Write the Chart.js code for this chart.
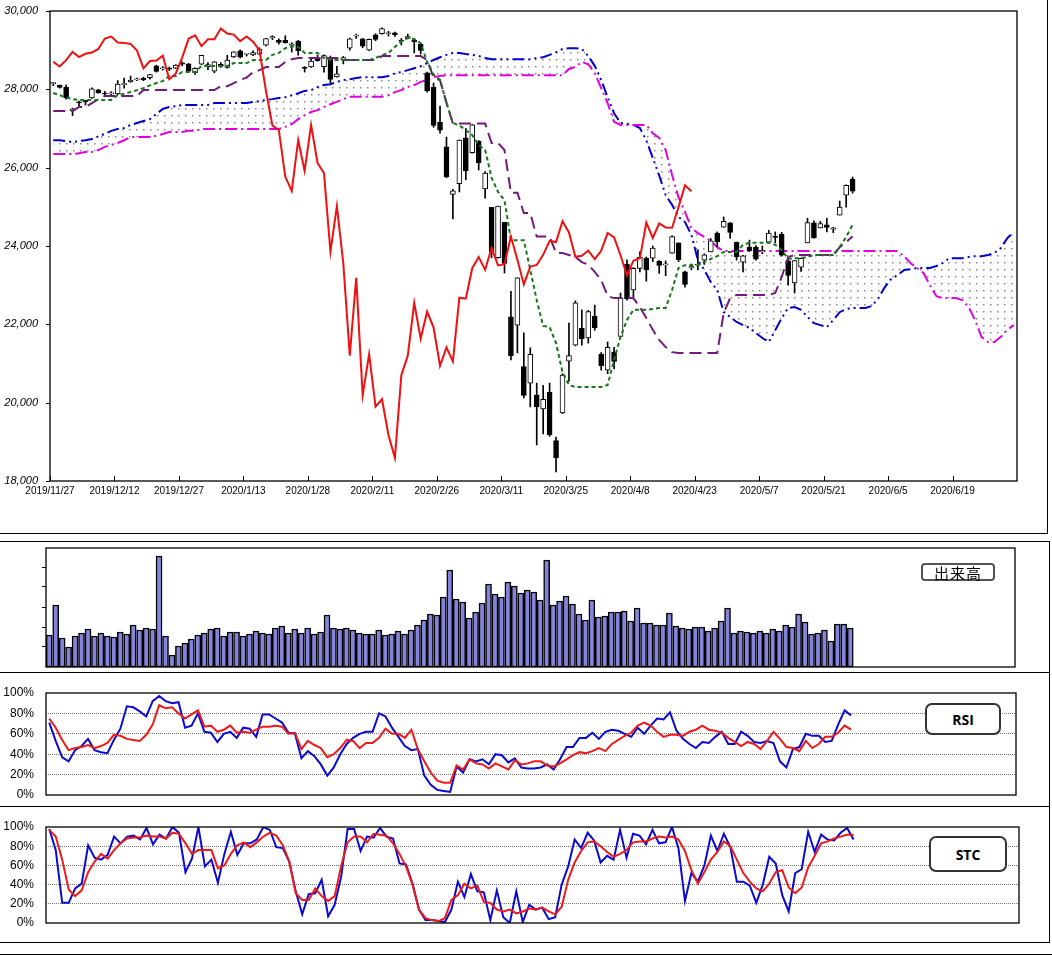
<!DOCTYPE html>
<html>
<head>
<meta charset="utf-8">
<script src="https://cdn.jsdelivr.net/npm/chart.js@4.4.1/dist/chart.umd.min.js"></script>
<style>
  body { margin: 0; background: #fff; }
  #wrap { position: relative; width: 1052px; height: 956px; overflow: hidden; }
  canvas { position: absolute; left: 0; }
  .ln { position: absolute; background: #000; }
  .tag { position: absolute; box-sizing: border-box; background: #fff; display: flex;
         align-items: center; justify-content: center; color: #000; }
</style>
</head>
<body>
<div id="wrap">
  <canvas id="cMain" width="1052" height="534" style="top:0"></canvas>
  <canvas id="cVol" width="1052" height="131" style="top:541px"></canvas>
  <canvas id="cRsi" width="1052" height="135" style="top:672px"></canvas>
  <canvas id="cStc" width="1052" height="135" style="top:807px"></canvas>

  <div class="ln" style="left:1047px;top:0;width:1px;height:534px"></div>
  <div class="ln" style="left:0;top:533px;width:1048px;height:1px"></div>
  <div class="ln" style="left:0;top:541px;width:1050px;height:1px"></div>
  <div class="ln" style="left:1049px;top:541px;width:1px;height:401px"></div>
  <div class="ln" style="left:0;top:672px;width:1050px;height:1px"></div>
  <div class="ln" style="left:0;top:806px;width:1050px;height:1px"></div>
  <div class="ln" style="left:0;top:942px;width:1050px;height:1px"></div>
  <div class="ln" style="left:0;top:954px;width:1052px;height:1px"></div>

  <div class="tag" style="left:921px;top:563px;width:74px;height:18px;border:2px solid #555;border-radius:4px;font:15px 'Noto Sans CJK JP';letter-spacing:1px">出来高</div>
  <div class="tag" style="left:925px;top:703px;width:76px;height:32px;border:2px solid #333;border-radius:7px;font:bold 14px 'Open Sans'">RSI</div>
  <div class="tag" style="left:929px;top:836px;width:78px;height:36px;border:2px solid #333;border-radius:7px;font:bold 14px 'Open Sans'">STC</div>
</div>

<script>
Chart.defaults.font.family = "'Liberation Sans', Arial, sans-serif";
Chart.defaults.color = '#000';

// date labels every 10 trading days
const tickLabels = ['2019/11/27', '2019/12/12', '2019/12/27', '2020/1/13', '2020/1/28', '2020/2/11', '2020/2/26',
    '2020/3/11', '2020/3/25', '2020/4/8', '2020/4/23', '2020/5/7', '2020/5/21', '2020/6/5', '2020/6/19'];
const priceTicks = [18000, 20000, 22000, 24000, 26000, 28000, 30000];

const open = [28145, 28100, 28060, 27450, 27680, 27720, 27780, 27990, 27900, 27880,
    27880, 28120, 28190, 28240, 28280, 28300, 28600, 28520, 28540, 28540,
    28675, 28650, 28420, 28640, 28580, 28465, 28640, 28560, 28830, 28980,
    28900, 28880, 28900, 29130, 29310, 29250, 29250, 29130, 29230, 28540,
    28570, 28820, 28580, 28770, 28320, 28750, 29050, 29360, 29290, 29000,
    29390, 29420, 29420, 29440, 29250, 29300, 29250, 29150, 28420, 28060,
    27160, 26530, 25320, 25590, 26760, 26380, 26680, 25460, 24990, 23700,
    24604, 22190, 21980, 20920, 20500, 20200, 19840, 20270, 19030, 19740,
    21060, 21470, 21900, 21650, 22210, 21240, 20830, 21290, 21690, 23540,
    22880, 23430, 23690, 23690, 23610, 23520, 23820, 24080, 23340, 23440,
    23510, 23640, 23850, 24330, 24480, 24590, 24100, 23590, 23970, 23970,
    23850, 24100, 24240, 24300, 23620, 23060, 23460, 24080, 24590, 24460,
    24540, 24430, 24790, 25300, 25710];
const high = [28175, 28110, 28110, 27520, 27700, 27720, 28040, 28000, 27950, 27940,
    28225, 28290, 28340, 28290, 28310, 28380, 28620, 28580, 28570, 28630,
    28700, 28660, 28550, 28870, 28680, 28710, 28680, 28870, 28960, 29010,
    28920, 28980, 29060, 29300, 29370, 29290, 29370, 29190, 29250, 28580,
    28780, 28870, 28880, 28850, 28590, 28840, 29310, 29410, 29300, 29280,
    29420, 29570, 29480, 29460, 29300, 29410, 29300, 29170, 28440, 28160,
    27570, 26780, 25450, 26710, 27000, 27100, 26690, 25900, 24990, 25020,
    24604, 22840, 23190, 21780, 21400, 20500, 20440, 20500, 19120, 20740,
    22030, 22600, 22370, 22360, 22490, 21280, 21550, 21410, 22800, 23650,
    23450, 23850, 23720, 24000, 23630, 23620, 24260, 24080, 23360, 23540,
    23900, 23800, 24190, 24360, 24740, 24600, 24100, 23760, 24150, 24010,
    24000, 24400, 24360, 24350, 23680, 23630, 23690, 24710, 24640, 24630,
    24710, 24480, 25150, 25560, 25760];
const low = [28095, 28030, 27750, 27330, 27560, 27600, 27770, 27900, 27830, 27850,
    27860, 28030, 28180, 28220, 28220, 28260, 28440, 28490, 28480, 28530,
    28600, 28430, 28380, 28630, 28500, 28420, 28560, 28540, 28810, 28800,
    28850, 28860, 28880, 29110, 29270, 29150, 29180, 28950, 28870, 28440,
    28560, 28720, 28440, 28160, 28310, 28650, 29000, 29300, 29060, 28990,
    29240, 29410, 29360, 29350, 29130, 29300, 28930, 28900, 27930, 27030,
    26880, 25740, 24690, 25380, 25690, 26370, 25940, 25220, 23700, 23690,
    23310, 21090, 21270, 20120, 19890, 18920, 19200, 19140, 18230, 19720,
    20540, 21450, 21470, 21520, 21850, 20830, 20740, 20860, 21690, 22620,
    22700, 23340, 23100, 23600, 23300, 23240, 23810, 23600, 22950, 23390,
    23390, 23530, 23850, 23980, 24480, 24200, 23640, 23340, 23860, 23640,
    23800, 24100, 24080, 23740, 23000, 22800, 23350, 24080, 24200, 24460,
    24360, 24340, 24790, 24990, 25350];
const close = [28164, 28051, 27783, 27503, 27650, 27677, 28015, 27909, 27881, 27911,
    28132, 28135, 28235, 28267, 28239, 28376, 28455, 28551, 28515, 28621,
    28645, 28462, 28538, 28868, 28634, 28703, 28583, 28745, 28956, 28823,
    28907, 28940, 29030, 29297, 29348, 29196, 29186, 29160, 28990, 28535,
    28723, 28734, 28859, 28256, 28399, 28808, 29290, 29379, 29102, 29276,
    29276, 29551, 29423, 29398, 29232, 29348, 29219, 28992, 27961, 27081,
    26957, 25766, 25409, 26703, 25917, 27091, 26121, 25864, 23851, 25018,
    23553, 21200, 23185, 20188, 21237, 19899, 20087, 19174, 18592, 20704,
    21200, 22552, 21636, 22327, 21917, 20943, 21413, 21052, 22679, 22654,
    23433, 23719, 23391, 23949, 23504, 23537, 24242, 23650, 23018, 23475,
    23515, 23775, 24133, 24101, 24633, 24345, 23723, 23749, 23883, 23664,
    23876, 24331, 24222, 23765, 23248, 23625, 23685, 24597, 24206, 24575,
    24474, 24465, 24995, 25548, 25400];

// 転換線
const tenkan = [27905, 27850, 27790, 27750, 27730, 27730, 27730, 27730, 27730, 27730,
    27855, 27890, 27930, 27980, 28030, 28100, 28160, 28210, 28340, 28340,
    28440, 28440, 28440, 28595, 28595, 28595, 28595, 28595, 28670, 28670,
    28670, 28750, 28750, 28750, 28880, 28930, 29050, 29100, 29080, 28930,
    28930, 28930, 28800, 28750, 28750, 28750, 28750, 28750, 28750, 28750,
    28800, 28875, 28930, 29080, 29230, 29310, 29280, 29180, 28700, 28380,
    28240, 27650, 27140, 27080, 26960, 26830, 26580, 26450, 25740, 25380,
    25170, 24150, 24150, 24150, 23390, 22620, 21960, 21930, 21520, 20780,
    20450, 20400, 20400, 20400, 20400, 20400, 20450, 21090, 21680, 22110,
    22370, 22370, 22370, 22390, 22420, 22420, 22880, 23440, 23510, 23510,
    23510, 23590, 23670, 23740, 23850, 23850, 23850, 24030, 24080, 24080,
    24080, 24080, 24030, 23900, 23670, 23690, 23690, 23720, 23770, 23770,
    23770, 23770, 23970, 24230, 24540];
// 基準線
const kijun = [27450, 27450, 27450, 27450, 27550, 27550, 27650, 27750, 27830, 27830,
    27830, 27830, 27830, 27830, 27980, 27980, 27980, 27980, 27980, 27980,
    27980, 27980, 27980, 27980, 27980, 27980, 28080, 28080, 28160, 28240,
    28300, 28440, 28490, 28570, 28570, 28570, 28700, 28770, 28800, 28800,
    28800, 28800, 28800, 28800, 28800, 28750, 28750, 28750, 28750, 28750,
    28750, 28850, 28850, 28850, 28850, 28850, 28850, 28850, 28750, 28300,
    28230, 27660, 27125, 27125, 27125, 27125, 27125, 27125, 26630, 26630,
    26450, 25360, 25360, 24840, 24840, 24240, 24240, 24240, 23820, 23820,
    23770, 23720, 23590, 23520, 23340, 23130, 22720, 22670, 22670, 22670,
    22670, 22440, 22160, 21860, 21600, 21420, 21290, 21270, 21270, 21270,
    21270, 21270, 21270, 21270, 22290, 22670, 22750, 22750, 22750, 22750,
    22750, 22750, 22800, 23210, 23720, 23770, 23770, 23770, 23770, 23770,
    23770, 23770, 23970, 24100, 24250];
// 遅行スパン (starts at the first bar)
const chikou = [28703, 28583, 28745, 28956, 28823, 28907, 28940, 29030, 29297, 29348,
    29196, 29186, 29160, 28990, 28535, 28723, 28734, 28859, 28256, 28399,
    28808, 29290, 29379, 29102, 29276, 29276, 29551, 29423, 29398, 29232,
    29348, 29219, 28992, 27961, 27081, 26957, 25766, 25409, 26703, 25917,
    27091, 26121, 25864, 23851, 25018, 23553, 21200, 23185, 20188, 21237,
    19899, 20087, 19174, 18592, 20704, 21200, 22552, 21636, 22327, 21917,
    20943, 21413, 21052, 22679, 22654, 23433, 23719, 23391, 23949, 23504,
    23537, 24242, 23650, 23018, 23475, 23515, 23775, 24133, 24101, 24633,
    24345, 23723, 23749, 23883, 23664, 23876, 24331, 24222, 23765, 23248,
    23625, 23685, 24597, 24206, 24575, 24474, 24465, 24995, 25548, 25400];
// 先行スパン1
const senkouA = [26700, 26700, 26680, 26650, 26680, 26700, 26730, 26800, 26860, 26940,
    26990, 27010, 27090, 27140, 27190, 27240, 27370, 27500, 27550, 27570,
    27600, 27600, 27600, 27600, 27600, 27650, 27650, 27650, 27650, 27650,
    27650, 27680, 27700, 27730, 27750, 27780, 27800, 27850, 27900, 27960,
    27980, 28060, 28110, 28130, 28190, 28240, 28260, 28290, 28310, 28310,
    28310, 28310, 28340, 28410, 28440, 28490, 28540, 28590, 28670, 28750,
    28820, 28880, 28930, 28930, 28900, 28880, 28850, 28800, 28770, 28770,
    28770, 28770, 28770, 28770, 28770, 28800, 28820, 28880, 28950, 29030,
    29050, 29050, 29030, 28850, 28600, 28240, 27800, 27390, 27140, 27120,
    27090, 27010, 26700, 26250, 25800, 25300, 25050, 24740, 24610, 24280,
    23640, 23390, 23080, 22880, 22310, 22190, 22060, 21980, 21910, 21780,
    21650, 21550, 21850, 22160, 22420, 22440, 22370, 22190, 22030, 21980,
    21930, 22110, 22310, 22390, 22420, 22420, 22420, 22470, 22670, 22950,
    23160, 23260, 23390, 23410, 23440, 23440, 23440, 23490, 23570, 23690,
    23690, 23690, 23720, 23740, 23740, 23770, 23820, 23950, 24200, 24360];
// 先行スパン2
const senkouB = [26350, 26350, 26350, 26350, 26370, 26400, 26400, 26450, 26530, 26580,
    26630, 26700, 26780, 26780, 26780, 26780, 26810, 26860, 26910, 26910,
    26910, 26940, 26940, 26990, 26990, 26990, 26990, 26990, 26990, 26990,
    26990, 26990, 26990, 26990, 26990, 26990, 27040, 27110, 27240, 27340,
    27420, 27470, 27550, 27620, 27680, 27750, 27810, 27810, 27810, 27810,
    27810, 27810, 27850, 27930, 27980, 28060, 28110, 28190, 28240, 28310,
    28340, 28360, 28360, 28360, 28360, 28360, 28360, 28360, 28360, 28360,
    28360, 28360, 28360, 28360, 28360, 28360, 28360, 28360, 28360, 28360,
    28520, 28570, 28700, 28640, 28410, 28030, 27650, 27170, 27090, 27090,
    27090, 27090, 27090, 26880, 26760, 26450, 25810, 25240, 24870, 24460,
    24330, 24230, 24130, 23970, 23870, 23870, 23870, 23870, 23870, 23870,
    23870, 23870, 23870, 23870, 23870, 23870, 23870, 23870, 23870, 23870,
    23870, 23870, 23870, 23870, 23870, 23870, 23870, 23870, 23870, 23870,
    23870, 23870, 23740, 23560, 23440, 23310, 23000, 22720, 22670, 22670,
    22670, 22620, 22440, 22110, 21680, 21550, 21550, 21680, 21860, 21980];

const volume = [320, 620, 290, 200, 310, 340, 380, 310, 340, 310,
    300, 350, 330, 420, 370, 390, 380, 1110, 310, 120,
    210, 240, 280, 320, 340, 380, 390, 310, 350, 350,
    310, 330, 360, 340, 330, 390, 410, 340, 380, 340,
    390, 330, 350, 520, 390, 380, 390, 370, 340, 330,
    330, 370, 320, 330, 360, 330, 370, 420, 470, 530,
    520, 700, 970, 680, 650, 490, 550, 640, 830, 730,
    700, 850, 810, 740, 770, 750, 670, 1070, 620, 660,
    710, 630, 530, 470, 670, 500, 510, 550, 550, 560,
    460, 590, 440, 440, 420, 420, 540, 410, 390, 380,
    400, 400, 360, 390, 460, 590, 340, 360, 350, 340,
    360, 340, 380, 360, 420, 400, 530, 450, 330, 340,
    370, 260, 430, 430, 390];
const volumeTicks = [200, 400, 600, 800, 1000];

const rsiFast = [71, 53, 37, 33, 44, 48, 55, 44, 42, 41,
    54, 65, 87, 86, 82, 77, 92, 97, 92, 90,
    91, 66, 68, 80, 62, 61, 52, 60, 62, 56,
    66, 65, 57, 79, 79, 75, 71, 61, 60, 36,
    43, 38, 30, 19, 27, 40, 50, 56, 60, 62,
    62, 80, 77, 66, 57, 48, 44, 45, 19, 10,
    5, 4, 3, 28, 22, 35, 33, 35, 30, 40,
    39, 32, 36, 27, 26, 26, 27, 30, 25, 35,
    47, 47, 56, 56, 61, 55, 62, 64, 63, 60,
    57, 66, 60, 68, 75, 74, 81, 63, 55, 50,
    46, 52, 51, 57, 62, 50, 50, 62, 58, 52,
    51, 53, 51, 33, 27, 45, 47, 60, 58, 58,
    52, 53, 69, 83, 78];
const rsiSlow = [75, 66, 54, 44, 46, 47, 49, 46, 48, 51,
    59, 58, 55, 54, 53, 59, 69, 88, 85, 86,
    80, 75, 79, 83, 67, 68, 62, 64, 68, 61,
    62, 61, 64, 67, 67, 68, 67, 60, 61, 45,
    53, 49, 46, 37, 40, 46, 54, 53, 46, 51,
    51, 56, 65, 60, 60, 56, 64, 45, 33, 22,
    14, 12, 12, 29, 25, 35, 31, 30, 26, 31,
    28, 25, 34, 30, 31, 33, 33, 29, 28, 31,
    35, 39, 42, 41, 43, 46, 43, 50, 54, 58,
    61, 68, 71, 68, 62, 57, 59, 59, 58, 62,
    64, 68, 64, 63, 61, 56, 52, 48, 52, 50,
    45, 53, 62, 55, 47, 46, 43, 53, 46, 50,
    57, 57, 61, 68, 64];
const rsiTicks = [0, 20, 40, 60, 80, 100];

const stcK = [98, 76, 21, 21, 36, 41, 81, 68, 66, 71,
    90, 83, 90, 91, 87, 99, 82, 92, 88, 100,
    94, 53, 67, 100, 59, 66, 42, 72, 95, 71,
    83, 83, 87, 100, 97, 79, 78, 64, 33, 9,
    30, 31, 45, 7, 19, 48, 98, 98, 75, 90,
    89, 99, 90, 88, 62, 61, 41, 14, 3, 3,
    2, 1, 14, 43, 27, 51, 33, 32, 3, 34,
    6, 0, 33, 1, 19, 14, 16, 4, 6, 40,
    59, 87, 78, 94, 86, 63, 70, 66, 97, 68,
    93, 91, 82, 97, 83, 84, 100, 78, 23, 52,
    43, 60, 91, 75, 93, 79, 43, 43, 39, 21,
    40, 69, 62, 29, 12, 52, 56, 95, 74, 92,
    87, 86, 94, 99, 87];
const stcD = [97, 90, 66, 35, 28, 34, 53, 64, 72, 67,
    76, 83, 88, 89, 89, 91, 90, 90, 88, 94,
    93, 83, 72, 76, 76, 76, 57, 60, 72, 81,
    84, 79, 84, 90, 94, 91, 81, 64, 31, 24,
    24, 36, 28, 23, 28, 59, 84, 90, 90, 84,
    93, 92, 91, 83, 72, 59, 40, 14, 5, 3,
    2, 5, 24, 29, 41, 36, 39, 22, 21, 14,
    12, 14, 10, 12, 15, 14, 16, 12, 9, 17,
    45, 63, 75, 84, 85, 80, 74, 69, 72, 76,
    84, 85, 85, 88, 90, 89, 90, 87, 75, 55,
    41, 53, 66, 74, 85, 80, 66, 52, 43, 36,
    33, 41, 53, 55, 37, 31, 37, 58, 70, 83,
    85, 88, 90, 92, 92];

// one slot per trading day, 150 slots on every panel
const SLOTS = 150;
const pts = arr => arr.map((v, i) => ({ x: i + 0.5, y: v }));

// plot box around the chart area
const frame = {
    id: 'frame',
    afterDraw(chart) {
        const { ctx, chartArea: a } = chart;
        ctx.save();
        ctx.strokeStyle = '#000';
        ctx.lineWidth = 1.3;
        ctx.strokeRect(a.left, a.top, a.right - a.left, a.bottom - a.top);
        ctx.restore();
    }
};

// date ticks pointing up into the plot, short price ticks to the left
const mainTicks = {
    id: 'mainTicks',
    afterDraw(chart) {
        const { ctx, chartArea: a, scales: { x, y } } = chart;
        ctx.save();
        ctx.strokeStyle = '#000';
        ctx.lineWidth = 1;
        x.ticks.forEach(t => {
            const px = Math.round(x.getPixelForValue(t.value)) + 0.5;
            ctx.beginPath();
            ctx.moveTo(px, a.bottom);
            ctx.lineTo(px, a.bottom - 5);
            ctx.stroke();
        });
        y.ticks.forEach(t => {
            const py = Math.round(y.getPixelForValue(t.value)) + 0.5;
            ctx.beginPath();
            ctx.moveTo(a.left - 4, py);
            ctx.lineTo(a.left, py);
            ctx.stroke();
        });
        ctx.restore();
    }
};

function makeDots(ctx) {
    const c = document.createElement('canvas');
    c.width = 7;
    c.height = 7;
    const g = c.getContext('2d');
    g.fillStyle = '#8a8a8a';
    g.fillRect(3, 3, 1.5, 1.5);
    return ctx.createPattern(c, 'repeat');
}

// nudge layout padding until the plot box sits where the reference has it
function fitArea(chart, want) {
    for (let k = 0; k < 2; k++) {
        const a = chart.chartArea;
        const p = chart.config.options.layout.padding;
        p.top += want.top - a.top;
        p.bottom += a.bottom - want.bottom;
        p.right += a.right - want.right;
        chart.update();
    }
}

const baseOpts = {
    responsive: false,
    animation: false,
    events: [],
    plugins: { legend: { display: false }, tooltip: { enabled: false } }
};

// ---------- price (ichimoku) ----------
const mainCanvas = document.getElementById('cMain');
const mainChart = new Chart(mainCanvas, {
    type: 'bar',
    data: {
        datasets: [
            {
                type: 'line', label: '先行スパン1', data: pts(senkouA),
                borderColor: '#0000cc', borderWidth: 2, borderDash: [12, 4, 2, 4, 2, 4],
                pointRadius: 0, fill: '+1', backgroundColor: makeDots(mainCanvas.getContext('2d')), order: 9
            },
            {
                type: 'line', label: '先行スパン2', data: pts(senkouB),
                borderColor: '#e000e0', borderWidth: 2, borderDash: [12, 4, 2, 4],
                pointRadius: 0, fill: false, order: 8
            },
            {
                label: 'wick', data: low.map((v, i) => ({ x: i + 0.5, y: [v, high[i]] })),
                backgroundColor: '#000', barThickness: 1, grouped: false, order: 7
            },
            {
                label: 'body', data: open.map((v, i) => ({ x: i + 0.5, y: [v, close[i]] })),
                backgroundColor: close.map((c, i) => c >= open[i] ? '#fff' : '#000'),
                borderColor: '#000', borderWidth: 1, borderSkipped: false,
                barThickness: 5, minBarLength: 1, grouped: false, order: 6
            },
            {
                type: 'line', label: '基準線', data: pts(kijun),
                borderColor: '#741a7e', borderWidth: 2, borderDash: [12, 6], pointRadius: 0, order: 5
            },
            {
                type: 'line', label: '転換線', data: pts(tenkan),
                borderColor: '#16781a', borderWidth: 2, borderDash: [4, 3], pointRadius: 0, order: 4
            },
            {
                type: 'line', label: '遅行スパン', data: pts(chikou),
                borderColor: '#f01010', borderWidth: 2, pointRadius: 0, order: 3
            }
        ]
    },
    options: {
        ...baseOpts,
        layout: { padding: { top: 11, right: 35, left: 0, bottom: 0 } },
        scales: {
            x: {
                type: 'linear', min: 0, max: SLOTS, offset: false,
                afterBuildTicks: s => { s.ticks = tickLabels.map((t, k) => ({ value: k * 10 })); },
                afterFit: s => { s.height = 53; },
                grid: { display: false, drawTicks: false },
                border: { display: false },
                ticks: {
                    autoSkip: false, maxRotation: 0, padding: 4,
                    font: { size: 10 },
                    callback: v => tickLabels[Math.round(v / 10)]
                }
            },
            y: {
                min: 18000, max: 30000,
                afterBuildTicks: s => { s.ticks = priceTicks.map(v => ({ value: v })); },
                afterFit: s => { s.width = 50; },
                // invisible tick length keeps the labels off the axis without extra padding
                grid: { drawOnChartArea: false, drawTicks: true, tickLength: 12, tickColor: 'rgba(0,0,0,0)' },
                border: { display: false },
                ticks: {
                    padding: 0,
                    font: { size: 11, style: 'italic' },
                    callback: v => v.toLocaleString('en-US')
                }
            }
        }
    },
    plugins: [frame, mainTicks]
});
fitArea(mainChart, { top: 11, bottom: 481, right: 1017 });

// ---------- 出来高 ----------
const volChart = new Chart(document.getElementById('cVol'), {
    type: 'bar',
    data: {
        datasets: [{
            label: '出来高', data: pts(volume),
            backgroundColor: '#8484dc', borderColor: '#000', borderWidth: 1.5,
            borderSkipped: false, barThickness: 6
        }]
    },
    options: {
        ...baseOpts,
        layout: { padding: { top: 7, right: 37, left: 0, bottom: 5 } },
        scales: {
            x: { type: 'linear', min: 0, max: SLOTS, offset: false, display: false },
            y: {
                min: 0, max: 1190,
                afterBuildTicks: s => { s.ticks = volumeTicks.map(v => ({ value: v })); },
                afterFit: s => { s.width = 46; },
                grid: { drawOnChartArea: false, tickLength: 4, color: '#000' },
                border: { display: false },
                ticks: { display: false, padding: 0 }
            }
        }
    },
    plugins: [frame]
});
fitArea(volChart, { top: 7, bottom: 126, right: 1015 });

// ---------- oscillators ----------
function oscChart(id, fast, slow, pad) {
    return new Chart(document.getElementById(id), {
        type: 'line',
        data: {
            datasets: [
                { data: pts(fast), borderColor: '#0a0ad2', borderWidth: 2, pointRadius: 0, order: 2 },
                { data: pts(slow), borderColor: '#ee1a1a', borderWidth: 2, pointRadius: 0, order: 1 }
            ]
        },
        options: {
            ...baseOpts,
            layout: { padding: pad },
            scales: {
                x: { type: 'linear', min: 0, max: SLOTS, display: false },
                y: {
                    min: 0, max: 100,
                    afterBuildTicks: s => { s.ticks = rsiTicks.map(v => ({ value: v })); },
                    afterFit: s => { s.width = 46; },
                    grid: {
                        drawTicks: true, tickLength: 10, tickColor: 'rgba(0,0,0,0)', lineWidth: 1,
                        color: c => (c.tick.value > 0 && c.tick.value < 100) ? '#7a7a7a' : 'rgba(0,0,0,0)'
                    },
                    border: { display: false, dash: [1, 1] },
                    ticks: { padding: 2, font: { size: 12 }, callback: v => v + '%' }
                }
            }
        },
        plugins: [frame]
    });
}
const rsiChart = oscChart('cRsi', rsiFast, rsiSlow, { top: 21, right: 36, left: 0, bottom: 12 });
fitArea(rsiChart, { top: 21, bottom: 123, right: 1016 });
const stcChart = oscChart('cStc', stcK, stcD, { top: 20, right: 33, left: 0, bottom: 19 });
fitArea(stcChart, { top: 20, bottom: 116, right: 1019 });
</script>
</body>
</html>
